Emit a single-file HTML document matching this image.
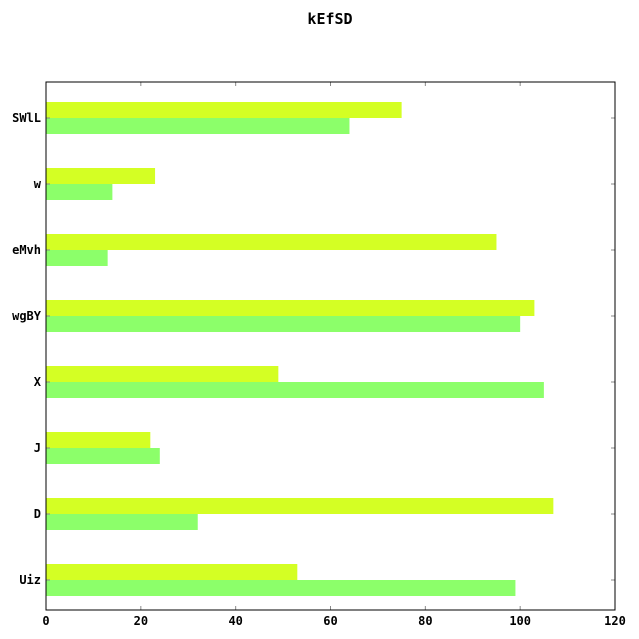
<!DOCTYPE html>
<html><head><meta charset="utf-8"><style>
body{margin:0;background:#fff}
svg{display:block;font-family:"DejaVu Sans Mono","Liberation Mono",monospace;font-weight:bold}
</style></head><body>
<svg id="c" width="639" height="639" xmlns="http://www.w3.org/2000/svg">
<text x="330" y="24" text-anchor="middle" font-size="15">kEfSD</text>
</svg>
<script>
const categories=["Uiz","D","J","X","wgBY","eMvh","w","SWlL"];
const seriesYellow=[53,107,22,49,103,95,23,75];
const seriesGreen=[99,32,24,105,100,13,14,64];
const xTicks=[0,20,40,60,80,100,120];
const L=46,R=615,T=82,B=610,xMax=120;
const ns="http://www.w3.org/2000/svg",svg=document.getElementById('c');
const x=v=>L+(v/xMax)*(R-L);
const band=66;
const yc=i=>B-30-band*i;
function mk(t,a){const e=document.createElementNS(ns,t);for(const k in a)e.setAttribute(k,a[k]);svg.appendChild(e);return e;}
categories.forEach((c,i)=>{
  const yb=mk('rect',{x:L,y:yc(i)-16,width:x(seriesYellow[i])-L,height:16,fill:'#d4ff24'});
  
  
  const gb=mk('rect',{x:L,y:yc(i),width:x(seriesGreen[i])-L,height:16,fill:'#8cff6a'});
  
  
  const t=mk('text',{x:41,y:yc(i)+4,'text-anchor':'end','font-size':12});
  t.textContent=c;
  
  
  mk('line',{x1:L,x2:L+4,y1:yc(i),y2:yc(i),stroke:'#888'});
  mk('line',{x1:R-4,x2:R,y1:yc(i),y2:yc(i),stroke:'#888'});
});
xTicks.forEach(v=>{
  mk('line',{x1:x(v),x2:x(v),y1:B,y2:B-4,stroke:'#888'});
  mk('line',{x1:x(v),x2:x(v),y1:T,y2:T+4,stroke:'#888'});
  const t=mk('text',{x:x(v),y:B+15,'text-anchor':'middle','font-size':12});
  t.textContent=v;
  
  
});
const f=mk('rect',{x:L,y:T,width:R-L,height:B-T,fill:'none',stroke:'#000'});


</script>
</body></html>
